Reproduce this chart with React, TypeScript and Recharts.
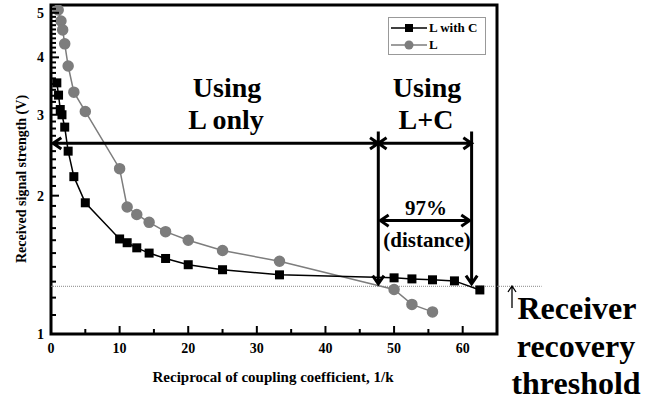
import React from "react";
import {
  LineChart,
  Line,
  XAxis,
  YAxis,
  ReferenceLine,
  ReferenceArea,
} from "recharts";

// 1/k positions and received voltage
const lcX = [0.85, 1.1, 1.35, 1.6, 2, 2.5, 3.33, 5, 10, 11.1, 12.5, 14.3, 16.7, 20, 25, 33.3, 50, 52.6, 55.6, 58.8, 62.5];
const lcV = [3.52, 3.31, 3.08, 3.0, 2.82, 2.5, 2.2, 1.93, 1.61, 1.58, 1.54, 1.5, 1.46, 1.415, 1.38, 1.345, 1.325, 1.318, 1.312, 1.305, 1.247];
const lX = [1.05, 1.45, 1.7, 2, 2.5, 3.33, 5, 10, 11.1, 12.5, 14.3, 16.7, 20, 25, 33.3, 50, 52.6, 55.6];
const lV = [5.07, 4.8, 4.59, 4.28, 3.83, 3.36, 3.05, 2.29, 1.89, 1.82, 1.75, 1.67, 1.6, 1.52, 1.44, 1.25, 1.16, 1.117];

const xMajor = [0, 10, 20, 30, 40, 50, 60];
const xMinor = [5, 15, 25, 35, 45, 55];
const yMajor = [1, 2, 3, 4, 5];
const yMinor = [
  1.1, 1.2, 1.3, 1.4, 1.5, 1.6, 1.7, 1.8, 1.9,
  2.1, 2.2, 2.3, 2.4, 2.5, 2.6, 2.7, 2.8, 2.9,
  3.1, 3.2, 3.3, 3.4, 3.5, 3.6, 3.7, 3.8, 3.9,
  4.1, 4.2, 4.3, 4.4, 4.5, 4.6, 4.7, 4.8, 4.9, 5.1,
];

// annotation anchors (data units)
const THRESHOLD = 1.27;
const SPLIT_X = 47.7;
const END_X = 61.3;
const ARROW_Y = 2.6;
const VLINE_TOP = 2.76;
const VLINE_TIP = 1.285;
const PCT_Y = 1.765;

const lcData = lcX.map((x, i) => ({ x, v: lcV[i] }));
const lData = lX.map((x, i) => ({ x, v: lV[i] }));

const FONT = '"Liberation Serif", "Times New Roman", serif';
const GRAY = "#7d7d7d";

const XTick = (p: any) => {
  const major = xMajor.includes(p.payload.value);
  return (
    <g>
      <line x1={p.x} y1={p.y} x2={p.x} y2={p.y - (major ? 8 : 5)} stroke="#000" strokeWidth={2} />
      {major && (
        <text x={p.x} y={p.y + 19} textAnchor="middle" fontFamily={FONT} fontWeight="bold" fontSize={14} fill="#000">
          {p.payload.value}
        </text>
      )}
    </g>
  );
};

const YTick = (p: any) => {
  const major = yMajor.includes(p.payload.value);
  return (
    <g>
      <line x1={p.x} y1={p.y} x2={p.x + (major ? 8 : 5)} y2={p.y} stroke="#000" strokeWidth={2} />
      {major && (
        <text x={p.x - 7} y={p.y + 5} textAnchor="end" fontFamily={FONT} fontWeight="bold" fontSize={14} fill="#000">
          {p.payload.value}
        </text>
      )}
    </g>
  );
};

const arrowShape = (headStart: boolean, headEnd: boolean) => (p: any) => {
  const { x1, y1, x2, y2 } = p;
  const a = Math.atan2(y2 - y1, x2 - x1);
  const len = 10;
  const s = 0.6;
  const head = (x: number, y: number, ang: number) =>
    `M${x + len * Math.cos(ang + s)},${y + len * Math.sin(ang + s)} L${x},${y} L${x + len * Math.cos(ang - s)},${y + len * Math.sin(ang - s)}`;
  let d = `M${x1},${y1} L${x2},${y2}`;
  if (headStart) d += " " + head(x1, y1, a);
  if (headEnd) d += " " + head(x2, y2, a + Math.PI);
  return <path d={d} fill="none" stroke="#000" strokeWidth={3} />;
};

const SquareDot = (p: any) => (
  <rect key={p.index} x={p.cx - 4.5} y={p.cy - 4.5} width={9} height={9} fill="#000" />
);

const LegendBox = () => (
  <div
    style={{
      position: "absolute",
      left: 388,
      top: 17,
      width: 94,
      border: "1px solid #999",
      background: "#fff",
      fontFamily: FONT,
      fontWeight: "bold",
      fontSize: 13,
      padding: "1px 0 1px 2px",
      lineHeight: "17px",
    }}
  >
    <div style={{ display: "flex", alignItems: "center", whiteSpace: "nowrap" }}>
      <svg width={36} height={12}>
        <line x1={0} y1={6} x2={36} y2={6} stroke="#000" strokeWidth={1.5} />
        <rect x={14} y={2} width={8} height={8} fill="#000" />
      </svg>
      <span style={{ marginLeft: 2 }}>L with C</span>
    </div>
    <div style={{ display: "flex", alignItems: "center" }}>
      <svg width={36} height={12}>
        <line x1={0} y1={6} x2={36} y2={6} stroke={GRAY} strokeWidth={1.5} />
        <circle cx={18} cy={6} r={4.5} fill={GRAY} />
      </svg>
      <span style={{ marginLeft: 2 }}>L</span>
    </div>
  </div>
);

const label = (text: string, x: number, y: number, size: number) => (
  <div
    style={{
      position: "absolute",
      left: x,
      top: y,
      transform: "translate(-50%, -50%)",
      fontFamily: FONT,
      fontWeight: "bold",
      fontSize: size,
      whiteSpace: "nowrap",
      lineHeight: 1,
      color: "#000",
    }}
  >
    {text}
  </div>
);

export default function App() {
  return (
    <div style={{ position: "absolute", left: 0, top: 0, width: 650, height: 401, background: "#fff" }}>
      <LineChart width={650} height={401} margin={{ top: 5, right: 153, left: 0, bottom: 0 }}>
        <XAxis
          type="number"
          dataKey="x"
          domain={[0, 65]}
          ticks={[...xMajor, ...xMinor].sort((a, b) => a - b)}
          interval={0}
          allowDataOverflow
          height={67}
          tickSize={0}
          tickMargin={0}
          axisLine={false}
          tick={<XTick />}
        />
        <YAxis
          scale="log"
          domain={[1, 5.2]}
          ticks={[...yMajor, ...yMinor].sort((a, b) => a - b)}
          interval={0}
          allowDataOverflow
          width={51}
          tickSize={0}
          tickMargin={0}
          axisLine={false}
          tick={<YTick />}
        />
        <ReferenceArea x1={0} x2={65} y1={1} y2={5.2} fill="none" stroke="#000" strokeWidth={3} ifOverflow="visible" />
        <ReferenceLine
          segment={[{ x: 0, y: THRESHOLD }, { x: 71.5, y: THRESHOLD }]}
          stroke="#888"
          strokeWidth={1}
          strokeDasharray="1 1"
          ifOverflow="visible"
        />
        <Line
          data={lData}
          dataKey="v"
          name="L"
          stroke={GRAY}
          strokeWidth={1.5}
          dot={{ r: 5, fill: GRAY, stroke: GRAY }}
          isAnimationActive={false}
        />
        <Line
          data={lcData}
          dataKey="v"
          name="L with C"
          stroke="#000"
          strokeWidth={1.5}
          dot={<SquareDot />}
          isAnimationActive={false}
        />
        <ReferenceLine segment={[{ x: 0.3, y: ARROW_Y }, { x: SPLIT_X, y: ARROW_Y }]} shape={arrowShape(true, true)} ifOverflow="visible" />
        <ReferenceLine segment={[{ x: SPLIT_X, y: ARROW_Y }, { x: END_X, y: ARROW_Y }]} shape={arrowShape(true, true)} ifOverflow="visible" />
        <ReferenceLine segment={[{ x: SPLIT_X, y: VLINE_TOP }, { x: SPLIT_X, y: VLINE_TIP }]} shape={arrowShape(false, true)} ifOverflow="visible" />
        <ReferenceLine segment={[{ x: END_X, y: VLINE_TOP }, { x: END_X, y: VLINE_TIP }]} shape={arrowShape(false, true)} ifOverflow="visible" />
        <ReferenceLine segment={[{ x: SPLIT_X + 0.3, y: PCT_Y }, { x: END_X - 0.3, y: PCT_Y }]} shape={arrowShape(true, true)} ifOverflow="visible" />
      </LineChart>
      <LegendBox />
      {label("Using", 227, 88, 28)}
      {label("L only", 226, 120, 28)}
      {label("Using", 427, 88, 28)}
      {label("L+C", 426, 120, 28)}
      {label("97%", 426, 208, 21)}
      {label("(distance)", 427, 240, 21)}
      <svg style={{ position: "absolute", left: 506, top: 285 }} width={12} height={24}>
        <path d="M6,23 L6,2 M2,7 L6,1 L10,7" fill="none" stroke="#000" strokeWidth={1.3} />
      </svg>
      {label("Receiver", 577, 308, 32)}
      {label("recovery", 576, 346, 32)}
      {label("threshold", 576, 383, 32)}
      {label("Reciprocal of coupling coefficient, 1/k", 273, 377, 15)}
      <div
        style={{
          position: "absolute",
          left: 22,
          top: 179,
          transform: "translate(-50%, -50%) rotate(-90deg)",
          fontFamily: FONT,
          fontWeight: "bold",
          fontSize: 14,
          whiteSpace: "nowrap",
          lineHeight: 1,
        }}
      >
        Received signal strength (V)
      </div>
    </div>
  );
}
